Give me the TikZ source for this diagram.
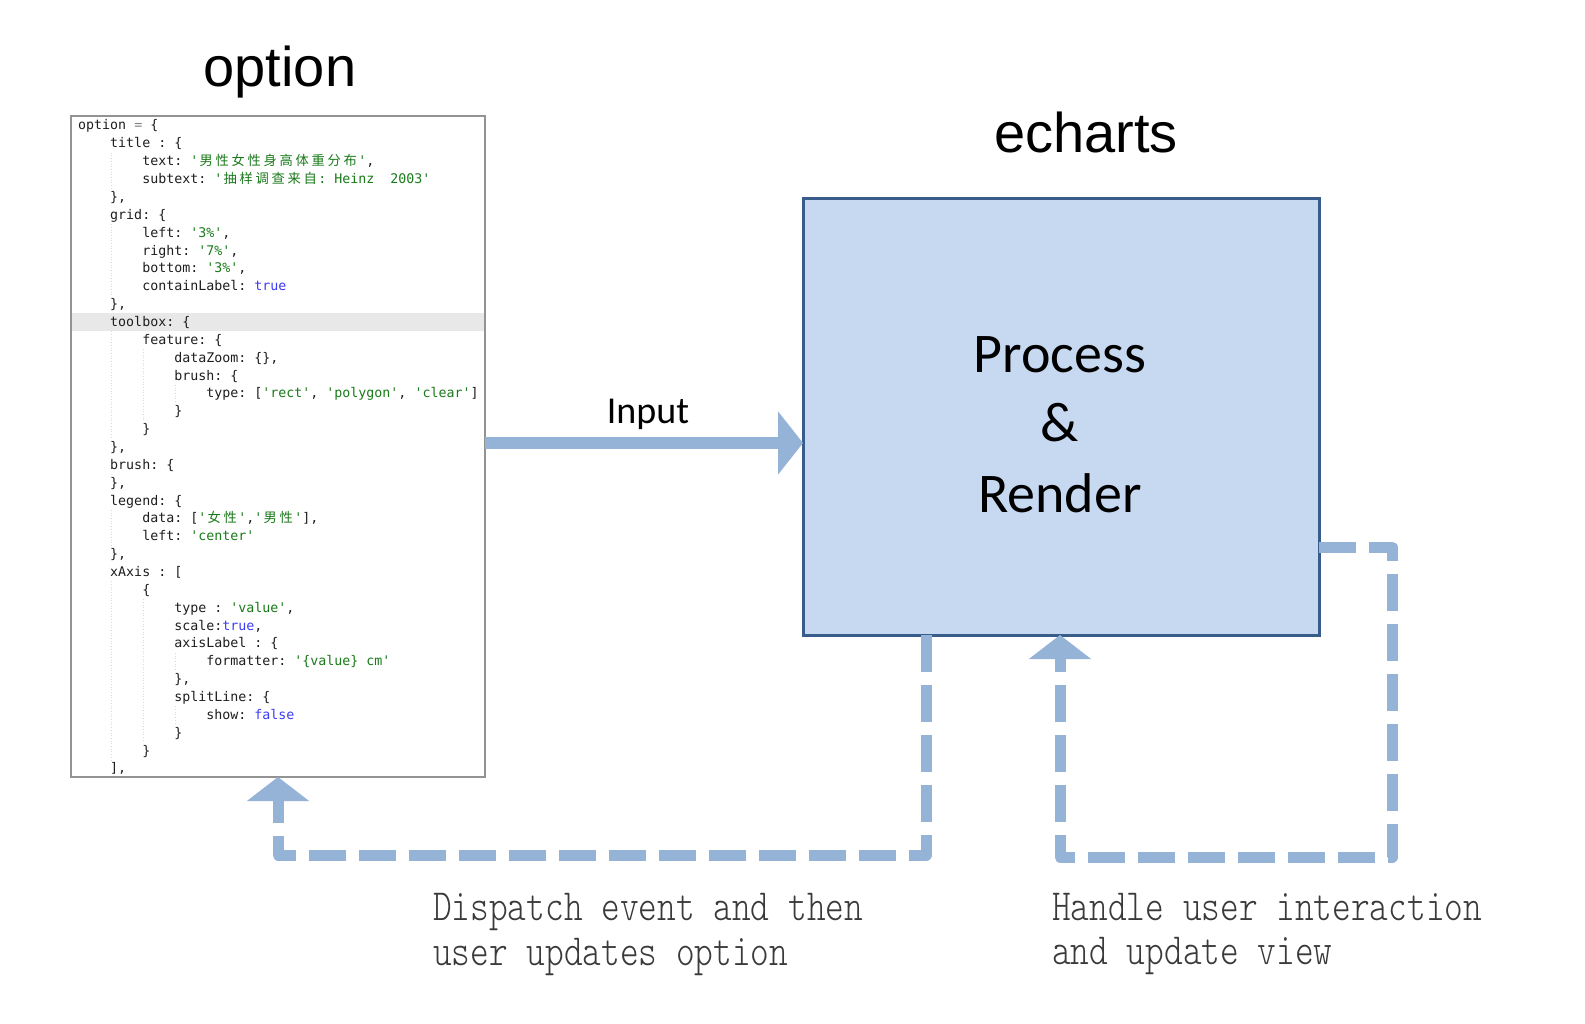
\documentclass[tikz,border=0pt]{standalone}
\usepackage{fontspec}
\usepackage{graphicx}
\usetikzlibrary{arrows.meta,calc}
\setmonofont{DejaVu Sans Mono}
\newfontfamily\cjkf{Noto Sans CJK SC}
\newfontfamily\helv{Liberation Sans}
\newfontfamily\calib{Carlito}
\newfontfamily\botf{lmmonolt10-regular.otf}
\definecolor{arrowblue}{HTML}{95B3D7}
\definecolor{boxfill}{HTML}{C6D9F1}
\definecolor{boxline}{HTML}{385D8A}
\definecolor{strgreen}{HTML}{1A7A1A}
\definecolor{boolblue}{HTML}{3C3CF5}
\definecolor{codeblack}{HTML}{1E1E1E}
\definecolor{hlgray}{HTML}{E8E8E8}
\definecolor{bottext}{HTML}{3A3A3A}
\newcommand\cstr[1]{\textcolor{strgreen}{#1}}
\newcommand\cbool[1]{\textcolor{boolblue}{#1}}
\def\cjloop#1{\ifx#1\relax\else\makebox[16pt][c]{#1}\expandafter\cjloop\fi}
\newcommand\cjs[1]{{\cjkf\cjloop#1\relax}}
\tikzset{
  code/.style={font=\ttfamily\fontsize{13.3}{16}\selectfont, text=codeblack, inner sep=0pt, anchor=base west},
  codebox/.style={draw=gray!85, line width=1.5pt, fill=white, inner sep=0pt, outer sep=0pt},
  procbox/.style={draw=boxline, line width=3pt, fill=boxfill, inner sep=0pt, outer sep=0pt},
  guide/.style={draw=gray!30, line width=0.7pt, dotted},
  inarrow/.style={draw=arrowblue, line width=12.5pt, -{Triangle[length=25pt,width=62pt]}},
  dloop/.style={draw=arrowblue, line width=11pt, line join=round, dash pattern=on 37pt off 13pt, -{Triangle[length=24pt,width=61pt]}},
  bigtitle/.style={font=\helv\fontsize{56}{60}\selectfont, inner sep=0pt, anchor=base},
  proctext/.style={font=\calib\fontsize{56}{60}\selectfont, inner sep=0pt, anchor=base},
  inlabel/.style={font=\calib\fontsize{38}{44}\selectfont, inner sep=0pt, anchor=base},
  bottxt/.style={font=\botf\fontsize{44.5}{50}\selectfont, text=bottext, inner sep=0pt, anchor=base west},
}
\newcommand\codeline[3]{\node[code] (l#1) at ({78+#2*8.007},{130+(#1-1)*17.86}) {#3};}
\newcommand\guide[3]{\draw[guide] ({79+#1*8.007},{130+(#2-1)*17.86-13}) -- ({79+#1*8.007},{130+(#3-1)*17.86+4.5});}
\begin{document}
\begin{tikzpicture}[x=1pt,y=-1pt]
\useasboundingbox (0,0) rectangle (1585,1024);
\fill[white] (0,0) rectangle (1585,1024);

% titles
\node[bigtitle] (optt) at (280,87) {option};
\node[bigtitle] (echt) at (1086,153) {echarts};

% code box
\node[codebox, anchor=north west, minimum width=414pt, minimum height=661pt] (code) at (71,116) {};
\fill[hlgray] (72,{130+11*17.86-13.5}) rectangle (484,{130+11*17.86+4.5});

\guide{4}{3}{4}
\guide{4}{7}{10}
\guide{4}{13}{18}
\guide{8}{14}{17}
\guide{12}{16}{16}
\guide{4}{23}{24}
\guide{4}{27}{36}
\guide{8}{28}{35}
\guide{12}{31}{31}
\guide{12}{34}{34}

\codeline{1}{0}{option \textcolor{gray}{=} \{}
\codeline{2}{4}{title : \{}
\codeline{3}{8}{text: \cstr{'\cjs{男性女性身高体重分布}'},}
\codeline{4}{8}{subtext: \cstr{'\cjs{抽样调查来自}: Heinz~~2003'}}
\codeline{5}{4}{\},}
\codeline{6}{4}{grid: \{}
\codeline{7}{8}{left: \cstr{'3\%'},}
\codeline{8}{8}{right: \cstr{'7\%'},}
\codeline{9}{8}{bottom: \cstr{'3\%'},}
\codeline{10}{8}{containLabel: \cbool{true}}
\codeline{11}{4}{\},}
\codeline{12}{4}{toolbox: \{}
\codeline{13}{8}{feature: \{}
\codeline{14}{12}{dataZoom: \{\},}
\codeline{15}{12}{brush: \{}
\codeline{16}{16}{type: [\cstr{'rect'}, \cstr{'polygon'}, \cstr{'clear'}]}
\codeline{17}{12}{\}}
\codeline{18}{8}{\}}
\codeline{19}{4}{\},}
\codeline{20}{4}{brush: \{}
\codeline{21}{4}{\},}
\codeline{22}{4}{legend: \{}
\codeline{23}{8}{data: [\cstr{'\cjs{女性}'},\cstr{'\cjs{男性}'}],}
\codeline{24}{8}{left: \cstr{'center'}}
\codeline{25}{4}{\},}
\codeline{26}{4}{xAxis : [}
\codeline{27}{8}{\{}
\codeline{28}{12}{type : \cstr{'value'},}
\codeline{29}{12}{scale:\cbool{true},}
\codeline{30}{12}{axisLabel : \{}
\codeline{31}{16}{formatter: \cstr{'\{value\} cm'}}
\codeline{32}{12}{\},}
\codeline{33}{12}{splitLine: \{}
\codeline{34}{16}{show: \cbool{false}}
\codeline{35}{12}{\}}
\codeline{36}{8}{\}}
\codeline{37}{4}{],}

% process box
\node[procbox, anchor=north west, minimum width=516pt, minimum height=436pt] (proc) at (803,199) {};
\node[proctext] (p1) at (1060,372) {Process};
\node[proctext] (p2) at (1060,441) {\&};
\node[proctext] (p3) at (1060,512) {Render};

% input arrow
\coordinate (iny) at (0,443);
\draw[inarrow] (code.east |- iny) -- (proc.west |- iny);
\node[inlabel] (inl) at (648,423) {Input};

% dashed loops
\draw[dloop] ([xshift=123pt]proc.south west) -- ++(0,220) -| (code.south);
\draw[dloop] ([yshift=-130pt]proc.east) -- ++(73,0) -- ++(0,310) -| ([xshift=-1pt]proc.south);

% bottom texts
\node[bottxt] (t1) at (433,920) {\scalebox{0.8}[1]{Dispatch event and then}};
\node[bottxt] (t2) at (433,965) {\scalebox{0.8}[1]{user updates option}};
\node[bottxt] (t3) at (1052,920) {\scalebox{0.8}[1]{Handle user interaction}};
\node[bottxt] (t4) at (1052,964) {\scalebox{0.8}[1]{and update view}};
\end{tikzpicture}
\end{document}
